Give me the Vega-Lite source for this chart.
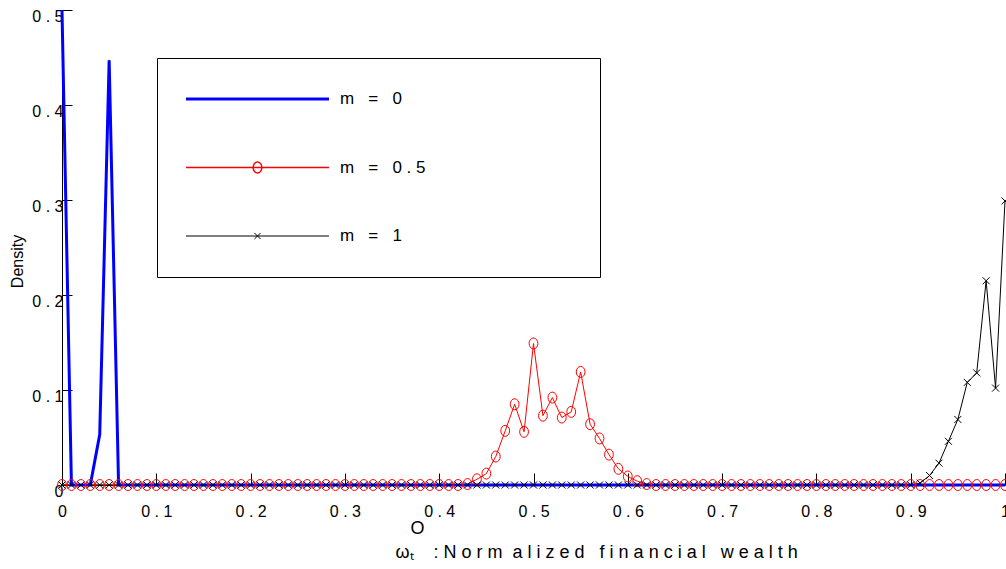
{
  "$schema": "https://vega.github.io/schema/vega-lite/v6.json",
  "width": 943,
  "height": 475,
  "autosize": "none",
  "padding": {"left": 62, "top": 10, "right": 1, "bottom": 84},
  "background": "white",
  "config": {
    "view": {"stroke": null},
    "font": "Liberation Sans",
    "axis": {"grid": false, "domainColor": "black", "tickColor": "black", "labelColor": "black", "titleColor": "black", "titleFontWeight": "normal", "labelFlush": false, "labelOverlap": false, "labelFont": "Liberation Sans", "titleFont": "Liberation Sans"}
  },
  "data": {"values": [
    {"x":0,"y":0.5,"m":"0"},{"x":0.01,"y":0,"m":"0"},{"x":0.02,"y":0,"m":"0"},{"x":0.03,"y":0,"m":"0"},{"x":0.04,"y":0.053,"m":"0"},{"x":0.05,"y":0.447,"m":"0"},{"x":0.06,"y":0,"m":"0"},{"x":0.07,"y":0,"m":"0"},{"x":0.08,"y":0,"m":"0"},{"x":0.09,"y":0,"m":"0"},
    {"x":0.1,"y":0,"m":"0"},{"x":0.11,"y":0,"m":"0"},{"x":0.12,"y":0,"m":"0"},{"x":0.13,"y":0,"m":"0"},{"x":0.14,"y":0,"m":"0"},{"x":0.15,"y":0,"m":"0"},{"x":0.16,"y":0,"m":"0"},{"x":0.17,"y":0,"m":"0"},{"x":0.18,"y":0,"m":"0"},{"x":0.19,"y":0,"m":"0"},
    {"x":0.2,"y":0,"m":"0"},{"x":0.21,"y":0,"m":"0"},{"x":0.22,"y":0,"m":"0"},{"x":0.23,"y":0,"m":"0"},{"x":0.24,"y":0,"m":"0"},{"x":0.25,"y":0,"m":"0"},{"x":0.26,"y":0,"m":"0"},{"x":0.27,"y":0,"m":"0"},{"x":0.28,"y":0,"m":"0"},{"x":0.29,"y":0,"m":"0"},
    {"x":0.3,"y":0,"m":"0"},{"x":0.31,"y":0,"m":"0"},{"x":0.32,"y":0,"m":"0"},{"x":0.33,"y":0,"m":"0"},{"x":0.34,"y":0,"m":"0"},{"x":0.35,"y":0,"m":"0"},{"x":0.36,"y":0,"m":"0"},{"x":0.37,"y":0,"m":"0"},{"x":0.38,"y":0,"m":"0"},{"x":0.39,"y":0,"m":"0"},
    {"x":0.4,"y":0,"m":"0"},{"x":0.41,"y":0,"m":"0"},{"x":0.42,"y":0,"m":"0"},{"x":0.43,"y":0,"m":"0"},{"x":0.44,"y":0,"m":"0"},{"x":0.45,"y":0,"m":"0"},{"x":0.46,"y":0,"m":"0"},{"x":0.47,"y":0,"m":"0"},{"x":0.48,"y":0,"m":"0"},{"x":0.49,"y":0,"m":"0"},
    {"x":0.5,"y":0,"m":"0"},{"x":0.51,"y":0,"m":"0"},{"x":0.52,"y":0,"m":"0"},{"x":0.53,"y":0,"m":"0"},{"x":0.54,"y":0,"m":"0"},{"x":0.55,"y":0,"m":"0"},{"x":0.56,"y":0,"m":"0"},{"x":0.57,"y":0,"m":"0"},{"x":0.58,"y":0,"m":"0"},{"x":0.59,"y":0,"m":"0"},
    {"x":0.6,"y":0,"m":"0"},{"x":0.61,"y":0,"m":"0"},{"x":0.62,"y":0,"m":"0"},{"x":0.63,"y":0,"m":"0"},{"x":0.64,"y":0,"m":"0"},{"x":0.65,"y":0,"m":"0"},{"x":0.66,"y":0,"m":"0"},{"x":0.67,"y":0,"m":"0"},{"x":0.68,"y":0,"m":"0"},{"x":0.69,"y":0,"m":"0"},
    {"x":0.7,"y":0,"m":"0"},{"x":0.71,"y":0,"m":"0"},{"x":0.72,"y":0,"m":"0"},{"x":0.73,"y":0,"m":"0"},{"x":0.74,"y":0,"m":"0"},{"x":0.75,"y":0,"m":"0"},{"x":0.76,"y":0,"m":"0"},{"x":0.77,"y":0,"m":"0"},{"x":0.78,"y":0,"m":"0"},{"x":0.79,"y":0,"m":"0"},
    {"x":0.8,"y":0,"m":"0"},{"x":0.81,"y":0,"m":"0"},{"x":0.82,"y":0,"m":"0"},{"x":0.83,"y":0,"m":"0"},{"x":0.84,"y":0,"m":"0"},{"x":0.85,"y":0,"m":"0"},{"x":0.86,"y":0,"m":"0"},{"x":0.87,"y":0,"m":"0"},{"x":0.88,"y":0,"m":"0"},{"x":0.89,"y":0,"m":"0"},
    {"x":0.9,"y":0,"m":"0"},{"x":0.91,"y":0,"m":"0"},{"x":0.92,"y":0,"m":"0"},{"x":0.93,"y":0,"m":"0"},{"x":0.94,"y":0,"m":"0"},{"x":0.95,"y":0,"m":"0"},{"x":0.96,"y":0,"m":"0"},{"x":0.97,"y":0,"m":"0"},{"x":0.98,"y":0,"m":"0"},{"x":0.99,"y":0,"m":"0"},
    {"x":1,"y":0,"m":"0"},
    {"x":0,"y":0,"m":"0.5"},{"x":0.01,"y":0,"m":"0.5"},{"x":0.02,"y":0,"m":"0.5"},{"x":0.03,"y":0,"m":"0.5"},{"x":0.04,"y":0,"m":"0.5"},{"x":0.05,"y":0,"m":"0.5"},{"x":0.06,"y":0,"m":"0.5"},{"x":0.07,"y":0,"m":"0.5"},{"x":0.08,"y":0,"m":"0.5"},{"x":0.09,"y":0,"m":"0.5"},
    {"x":0.1,"y":0,"m":"0.5"},{"x":0.11,"y":0,"m":"0.5"},{"x":0.12,"y":0,"m":"0.5"},{"x":0.13,"y":0,"m":"0.5"},{"x":0.14,"y":0,"m":"0.5"},{"x":0.15,"y":0,"m":"0.5"},{"x":0.16,"y":0,"m":"0.5"},{"x":0.17,"y":0,"m":"0.5"},{"x":0.18,"y":0,"m":"0.5"},{"x":0.19,"y":0,"m":"0.5"},
    {"x":0.2,"y":0,"m":"0.5"},{"x":0.21,"y":0,"m":"0.5"},{"x":0.22,"y":0,"m":"0.5"},{"x":0.23,"y":0,"m":"0.5"},{"x":0.24,"y":0,"m":"0.5"},{"x":0.25,"y":0,"m":"0.5"},{"x":0.26,"y":0,"m":"0.5"},{"x":0.27,"y":0,"m":"0.5"},{"x":0.28,"y":0,"m":"0.5"},{"x":0.29,"y":0,"m":"0.5"},
    {"x":0.3,"y":0,"m":"0.5"},{"x":0.31,"y":0,"m":"0.5"},{"x":0.32,"y":0,"m":"0.5"},{"x":0.33,"y":0,"m":"0.5"},{"x":0.34,"y":0,"m":"0.5"},{"x":0.35,"y":0,"m":"0.5"},{"x":0.36,"y":0,"m":"0.5"},{"x":0.37,"y":0,"m":"0.5"},{"x":0.38,"y":0,"m":"0.5"},{"x":0.39,"y":0,"m":"0.5"},
    {"x":0.4,"y":0,"m":"0.5"},{"x":0.41,"y":0,"m":"0.5"},{"x":0.42,"y":0,"m":"0.5"},{"x":0.43,"y":0.001,"m":"0.5"},{"x":0.44,"y":0.006,"m":"0.5"},{"x":0.45,"y":0.012,"m":"0.5"},{"x":0.46,"y":0.03,"m":"0.5"},{"x":0.47,"y":0.057,"m":"0.5"},{"x":0.48,"y":0.085,"m":"0.5"},{"x":0.49,"y":0.056,"m":"0.5"},
    {"x":0.5,"y":0.149,"m":"0.5"},{"x":0.51,"y":0.073,"m":"0.5"},{"x":0.52,"y":0.092,"m":"0.5"},{"x":0.53,"y":0.071,"m":"0.5"},{"x":0.54,"y":0.077,"m":"0.5"},{"x":0.55,"y":0.119,"m":"0.5"},{"x":0.56,"y":0.064,"m":"0.5"},{"x":0.57,"y":0.049,"m":"0.5"},{"x":0.58,"y":0.032,"m":"0.5"},{"x":0.59,"y":0.017,"m":"0.5"},
    {"x":0.6,"y":0.009,"m":"0.5"},{"x":0.61,"y":0.004,"m":"0.5"},{"x":0.62,"y":0.001,"m":"0.5"},{"x":0.63,"y":0,"m":"0.5"},{"x":0.64,"y":0,"m":"0.5"},{"x":0.65,"y":0,"m":"0.5"},{"x":0.66,"y":0,"m":"0.5"},{"x":0.67,"y":0,"m":"0.5"},{"x":0.68,"y":0,"m":"0.5"},{"x":0.69,"y":0,"m":"0.5"},
    {"x":0.7,"y":0,"m":"0.5"},{"x":0.71,"y":0,"m":"0.5"},{"x":0.72,"y":0,"m":"0.5"},{"x":0.73,"y":0,"m":"0.5"},{"x":0.74,"y":0,"m":"0.5"},{"x":0.75,"y":0,"m":"0.5"},{"x":0.76,"y":0,"m":"0.5"},{"x":0.77,"y":0,"m":"0.5"},{"x":0.78,"y":0,"m":"0.5"},{"x":0.79,"y":0,"m":"0.5"},
    {"x":0.8,"y":0,"m":"0.5"},{"x":0.81,"y":0,"m":"0.5"},{"x":0.82,"y":0,"m":"0.5"},{"x":0.83,"y":0,"m":"0.5"},{"x":0.84,"y":0,"m":"0.5"},{"x":0.85,"y":0,"m":"0.5"},{"x":0.86,"y":0,"m":"0.5"},{"x":0.87,"y":0,"m":"0.5"},{"x":0.88,"y":0,"m":"0.5"},{"x":0.89,"y":0,"m":"0.5"},
    {"x":0.9,"y":0,"m":"0.5"},{"x":0.91,"y":0,"m":"0.5"},{"x":0.92,"y":0,"m":"0.5"},{"x":0.93,"y":0,"m":"0.5"},{"x":0.94,"y":0,"m":"0.5"},{"x":0.95,"y":0,"m":"0.5"},{"x":0.96,"y":0,"m":"0.5"},{"x":0.97,"y":0,"m":"0.5"},{"x":0.98,"y":0,"m":"0.5"},{"x":0.99,"y":0,"m":"0.5"},
    {"x":1,"y":0,"m":"0.5"},
    {"x":0,"y":0,"m":"1"},{"x":0.01,"y":0,"m":"1"},{"x":0.02,"y":0,"m":"1"},{"x":0.03,"y":0,"m":"1"},{"x":0.04,"y":0,"m":"1"},{"x":0.05,"y":0,"m":"1"},{"x":0.06,"y":0,"m":"1"},{"x":0.07,"y":0,"m":"1"},{"x":0.08,"y":0,"m":"1"},{"x":0.09,"y":0,"m":"1"},
    {"x":0.1,"y":0,"m":"1"},{"x":0.11,"y":0,"m":"1"},{"x":0.12,"y":0,"m":"1"},{"x":0.13,"y":0,"m":"1"},{"x":0.14,"y":0,"m":"1"},{"x":0.15,"y":0,"m":"1"},{"x":0.16,"y":0,"m":"1"},{"x":0.17,"y":0,"m":"1"},{"x":0.18,"y":0,"m":"1"},{"x":0.19,"y":0,"m":"1"},
    {"x":0.2,"y":0,"m":"1"},{"x":0.21,"y":0,"m":"1"},{"x":0.22,"y":0,"m":"1"},{"x":0.23,"y":0,"m":"1"},{"x":0.24,"y":0,"m":"1"},{"x":0.25,"y":0,"m":"1"},{"x":0.26,"y":0,"m":"1"},{"x":0.27,"y":0,"m":"1"},{"x":0.28,"y":0,"m":"1"},{"x":0.29,"y":0,"m":"1"},
    {"x":0.3,"y":0,"m":"1"},{"x":0.31,"y":0,"m":"1"},{"x":0.32,"y":0,"m":"1"},{"x":0.33,"y":0,"m":"1"},{"x":0.34,"y":0,"m":"1"},{"x":0.35,"y":0,"m":"1"},{"x":0.36,"y":0,"m":"1"},{"x":0.37,"y":0,"m":"1"},{"x":0.38,"y":0,"m":"1"},{"x":0.39,"y":0,"m":"1"},
    {"x":0.4,"y":0,"m":"1"},{"x":0.41,"y":0,"m":"1"},{"x":0.42,"y":0,"m":"1"},{"x":0.43,"y":0,"m":"1"},{"x":0.44,"y":0,"m":"1"},{"x":0.45,"y":0,"m":"1"},{"x":0.46,"y":0,"m":"1"},{"x":0.47,"y":0,"m":"1"},{"x":0.48,"y":0,"m":"1"},{"x":0.49,"y":0,"m":"1"},
    {"x":0.5,"y":0,"m":"1"},{"x":0.51,"y":0,"m":"1"},{"x":0.52,"y":0,"m":"1"},{"x":0.53,"y":0,"m":"1"},{"x":0.54,"y":0,"m":"1"},{"x":0.55,"y":0,"m":"1"},{"x":0.56,"y":0,"m":"1"},{"x":0.57,"y":0,"m":"1"},{"x":0.58,"y":0,"m":"1"},{"x":0.59,"y":0,"m":"1"},
    {"x":0.6,"y":0,"m":"1"},{"x":0.61,"y":0,"m":"1"},{"x":0.62,"y":0,"m":"1"},{"x":0.63,"y":0,"m":"1"},{"x":0.64,"y":0,"m":"1"},{"x":0.65,"y":0,"m":"1"},{"x":0.66,"y":0,"m":"1"},{"x":0.67,"y":0,"m":"1"},{"x":0.68,"y":0,"m":"1"},{"x":0.69,"y":0,"m":"1"},
    {"x":0.7,"y":0,"m":"1"},{"x":0.71,"y":0,"m":"1"},{"x":0.72,"y":0,"m":"1"},{"x":0.73,"y":0,"m":"1"},{"x":0.74,"y":0,"m":"1"},{"x":0.75,"y":0,"m":"1"},{"x":0.76,"y":0,"m":"1"},{"x":0.77,"y":0,"m":"1"},{"x":0.78,"y":0,"m":"1"},{"x":0.79,"y":0,"m":"1"},
    {"x":0.8,"y":0,"m":"1"},{"x":0.81,"y":0,"m":"1"},{"x":0.82,"y":0,"m":"1"},{"x":0.83,"y":0,"m":"1"},{"x":0.84,"y":0,"m":"1"},{"x":0.85,"y":0,"m":"1"},{"x":0.86,"y":0,"m":"1"},{"x":0.87,"y":0,"m":"1"},{"x":0.88,"y":0,"m":"1"},{"x":0.89,"y":0,"m":"1"},
    {"x":0.9,"y":0,"m":"1"},{"x":0.91,"y":0.002,"m":"1"},{"x":0.92,"y":0.01,"m":"1"},{"x":0.93,"y":0.023,"m":"1"},{"x":0.94,"y":0.046,"m":"1"},{"x":0.95,"y":0.069,"m":"1"},{"x":0.96,"y":0.108,"m":"1"},{"x":0.97,"y":0.118,"m":"1"},{"x":0.98,"y":0.215,"m":"1"},{"x":0.99,"y":0.102,"m":"1"},
    {"x":1,"y":0.299,"m":"1"}
  ]},
  "encoding": {
    "x": {
      "field": "x", "type": "quantitative",
      "scale": {"domain": [0, 1], "nice": false, "zero": false},
      "axis": {
        "values": [0, 0.1, 0.2, 0.3, 0.4, 0.5, 0.6, 0.7, 0.8, 0.9, 1],
        "labelExpr": "replace(format(datum.value, '~g'), '.', ' . ')",
        "tickSize": -12,
        "labelPadding": 30,
        "labelFontSize": 16,
        "title": ["\u200b\u00a0\u00a0\u00a0O", "ω\u209c\u00a0\u00a0\u00a0\u00a0:\u00a0N o r m\u00a0\u00a0a l i z e d\u00a0\u00a0\u00a0f i n a n c i a l\u00a0\u00a0\u00a0w e a l t h"],
        "titleFontSize": 18,
        "titleAlign": "left",
        "titleBaseline": "alphabetic",
        "titleX": 333,
        "titleY": 48,
        "titleLineHeight": 24
      }
    },
    "y": {
      "field": "y", "type": "quantitative",
      "scale": {"domain": [0, 0.5], "nice": false},
      "axis": {
        "values": [0, 0.1, 0.2, 0.3, 0.4, 0.5],
        "labelExpr": "datum.value == 0 ? '0\u00a0' : replace(format(datum.value, '~g'), '.', ' . ')",
        "tickSize": -10,
        "labelPadding": 9,
        "labelOffset": 6,
        "labelFontSize": 16,
        "title": "Density",
        "titleFontSize": 16,
        "titleX": -45,
        "titleY": 251,
        "titleAlign": "center",
        "titleBaseline": "middle"
      }
    }
  },
  "layer": [
    {
      "mark": {"type": "line", "strokeWidth": 1},
      "encoding": {
        "color": {
          "field": "m", "type": "nominal",
          "scale": {"domain": ["0", "0.5", "1"], "range": ["#0000ff", "#ff0000", "#000000"]},
          "legend": {
            "orient": "none",
            "legendX": 95,
            "legendY": 48,
            "title": null,
            "padding": 28,
            "strokeColor": "black",
            "fillColor": "white",
            "clipHeight": 26,
            "rowPadding": 42.5,
            "symbolSize": 20449,
            "labelOffset": 10,
            "labelFontSize": 17,
            "labelColor": "black",
            "labelFont": "Liberation Sans",
            "labelLimit": 0,
            "labelExpr": "'m\u00a0\u00a0\u00a0=\u00a0\u00a0\u00a0' + replace(datum.value, '.', ' . ') + (datum.value == '0.5' ? '\u00a0\u00a0\u00a0\u00a0\u00a0\u00a0\u00a0\u00a0\u00a0\u00a0\u00a0\u00a0\u00a0\u00a0\u00a0\u00a0\u00a0\u00a0\u00a0\u00a0\u00a0\u00a0\u00a0\u00a0\u00a0\u00a0\u00a0\u00a0\u00a0\u00a0\u00a0\u200b' : '')",
            "encode": {
              "symbols": {
                "update": {
                  "x": {"value": 72.5},
                  "size": {"value": 20449},
                  "shape": {"signal": "datum.value == '0' ? 'M-1,0L1,0' : (datum.value == '0.5' ? 'M0,-0.077C0.034,-0.077 0.0615,-0.0425 0.0615,0C0.0615,0.0425 0.034,0.077 0,0.077C-0.034,0.077 -0.0615,0.0425 -0.0615,0C-0.0615,-0.0425 -0.034,-0.077 0,-0.077ZM-1,0L1,0' : 'M-1,0L1,0M-0.042,-0.042L0.042,0.042M-0.042,0.042L0.042,-0.042')"},
                  "stroke": {"signal": "datum.value == '0' ? '#0000ff' : (datum.value == '0.5' ? '#ff3030' : '#000000')"},
                  "strokeWidth": {"signal": "datum.value == '0' ? 3 : (datum.value == '0.5' ? 1.5 : 1)"},
                  "fill": {"value": "transparent"},
                  "opacity": {"value": 1},
                  "strokeOpacity": {"value": 1}
                }
              },
              "labels": {
                "update": {
                  "x": {"value": 155},
                  "align": {"value": "left"}
                }
              }
            }
          }
        }
      }
    },
    {
      "transform": [{"filter": "datum.m == '0'"}],
      "mark": {"type": "line", "strokeWidth": 3, "color": "#0000ff"}
    },
    {
      "transform": [{"filter": "datum.m == '0.5'"}],
      "mark": {"type": "point", "shape": "M0,-1C0.442,-1 0.8,-0.552 0.8,0C0.8,0.552 0.442,1 0,1C-0.442,1 -0.8,0.552 -0.8,0C-0.8,-0.552 -0.442,-1 0,-1Z", "filled": false, "stroke": "#ff0000", "strokeWidth": 1, "size": 121, "opacity": 1}
    },
    {
      "transform": [{"filter": "datum.m == '1'"}],
      "mark": {"type": "point", "shape": "M-1,-1L1,1M-1,1L1,-1", "filled": false, "stroke": "#000000", "strokeWidth": 1, "size": 49, "opacity": 1}
    }
  ]
}
